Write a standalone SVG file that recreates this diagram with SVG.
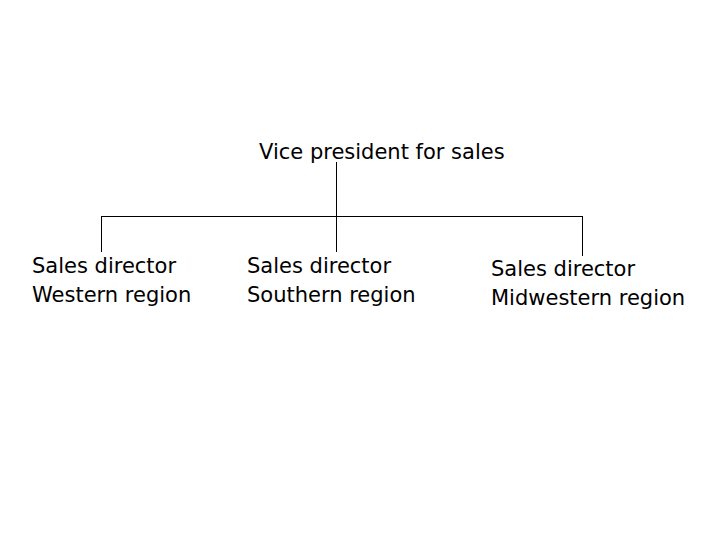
<svg xmlns="http://www.w3.org/2000/svg" width="720" height="540" viewBox="0 0 720 540">
<style>
text{font-family:"DejaVu Sans",Verdana,sans-serif;font-size:21px;fill:#000}
.c line{stroke:#000;stroke-width:1}
</style>
<rect width="720" height="540" fill="#fff"/>
<g class="c" id="connectors">
<line x1="336.5" y1="162" x2="336.5" y2="252"/>
<line x1="101.5" y1="216.5" x2="582.5" y2="216.5"/>
<line x1="101.5" y1="216" x2="101.5" y2="252"/>
<line x1="582.5" y1="216" x2="582.5" y2="256"/>
</g>
<g id="vp"><text x="259" y="159">Vice president for sales</text></g>
<g id="west"><text x="32" y="273">Sales director</text><text x="32" y="302">Western region</text></g>
<g id="south"><text x="247" y="273">Sales director</text><text x="247" y="302">Southern region</text></g>
<g id="midwest"><text x="491" y="276">Sales director</text><text x="491" y="305">Midwestern region</text></g>
</svg>
